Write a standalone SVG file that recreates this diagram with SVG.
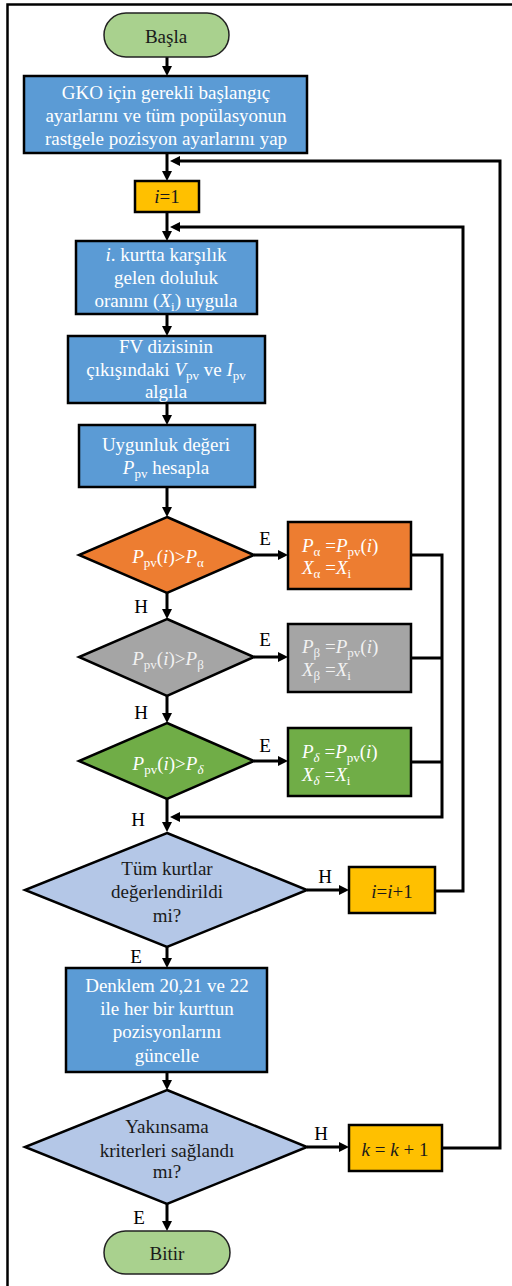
<svg xmlns="http://www.w3.org/2000/svg" width="512" height="1286" viewBox="0 0 512 1286">
<defs>
<marker id="ah" markerUnits="userSpaceOnUse" markerWidth="11" markerHeight="11" refX="3" refY="5" orient="auto">
<path d="M0,0 L10,5 L0,10 z" fill="#000"/>
</marker>
<style>
text{font-family:"Liberation Serif","Times New Roman",serif;font-size:19px;}
.w{fill:#fff;}
.g{fill:#f2f2f2;}
.d{fill:#1a1a1a;}
.c{text-anchor:middle;}
.it{font-style:italic;}
.node{stroke:#000;stroke-width:2.5;}
.term{stroke:#222;stroke-width:1.5;fill:#a9d18e;}
.blue{fill:#5b9bd5;}
.orange{fill:#ed7d31;}
.gray{fill:#a5a5a5;}
.green{fill:#70ad47;}
.yellow{fill:#ffc000;}
.lb{fill:#b4c7e7;}
.conn{fill:none;stroke:#000;stroke-width:3;}
.arr{marker-end:url(#ah);}
.lbl{fill:#000;text-anchor:middle;}
</style>
</defs>
<rect width="512" height="1286" fill="#fff"/>
<path d="M7.5,1286 V4.5 H512" fill="none" stroke="#000" stroke-width="2.5"/>

<g id="connectors">
<path class="conn arr" d="M167,57 V69"/>
<path class="conn arr" d="M167,153 V174"/>
<path class="conn arr" d="M442,1148 H500 V161 H177"/>
<path class="conn arr" d="M167,212 V234"/>
<path class="conn arr" d="M435,891 H463 V227 H177"/>
<path class="conn arr" d="M167,314 V329"/>
<path class="conn arr" d="M167,403 V418"/>
<path class="conn arr" d="M167,487 V510"/>
<path class="conn arr" d="M254,555 H281"/>
<path class="conn arr" d="M411,555 H442 V817 H177"/>
<path class="conn arr" d="M167,593 V612"/>
<path class="conn arr" d="M254,657 H281"/>
<path class="conn" d="M411,658 H442"/>
<path class="conn arr" d="M167,696 V716"/>
<path class="conn arr" d="M254,761 H281"/>
<path class="conn" d="M411,762 H442"/>
<path class="conn arr" d="M167,799 V825"/>
<path class="conn arr" d="M307,890 H342"/>
<path class="conn arr" d="M167,947 V961"/>
<path class="conn arr" d="M167,1072 V1083"/>
<path class="conn arr" d="M307,1147 H342"/>
<path class="conn arr" d="M167,1204 V1224"/>
<text class="lbl" x="265" y="545">E</text>
<text class="lbl" x="265" y="646">E</text>
<text class="lbl" x="265" y="752">E</text>
<text class="lbl" x="141" y="613">H</text>
<text class="lbl" x="141" y="719">H</text>
<text class="lbl" x="138" y="826">H</text>
<text class="lbl" x="325" y="883">H</text>
<text class="lbl" x="136" y="963">E</text>
<text class="lbl" x="321" y="1140">H</text>
<text class="lbl" x="139" y="1224">E</text>
</g>

<g id="start">
<rect class="term" x="104" y="13" width="125" height="44" rx="22"/>
<text class="d c" x="166" y="43">Başla</text>
</g>

<g id="init">
<rect class="node blue" x="24" y="76" width="283" height="77"/>
<text class="w c" x="166" y="99">GKO için gerekli başlangıç</text>
<text class="w c" x="166" y="122">ayarlarını ve tüm popülasyonun</text>
<text class="w c" x="166" y="145">rastgele pozisyon  ayarlarını yap</text>
</g>

<g id="i1">
<rect class="node yellow" x="135" y="181" width="64" height="31"/>
<text class="d c" x="167" y="203"><tspan class="it">i</tspan>=1</text>
</g>

<g id="apply">
<rect class="node blue" x="76" y="241" width="181" height="73"/>
<text class="w c" x="166" y="261"><tspan class="it">i</tspan>. kurtta  karşılık</text>
<text class="w c" x="166" y="284">gelen doluluk</text>
<text class="w c" x="166" y="307">oranını  (<tspan class="it">X</tspan><tspan font-size="13" dy="4">i</tspan><tspan dy="-4">) uygula</tspan></text>
</g>

<g id="sense">
<rect class="node blue" x="68" y="336" width="197" height="67"/>
<text class="w c" x="166" y="353">FV dizisinin</text>
<text class="w c" x="166" y="376">çıkışındaki  <tspan class="it">V</tspan><tspan font-size="13" dy="4">pv</tspan><tspan dy="-4"> ve </tspan><tspan class="it">I</tspan><tspan font-size="13" dy="4">pv</tspan></text>
<text class="w c" x="166" y="398">algıla</text>
</g>

<g id="fitness">
<rect class="node blue" x="79" y="425" width="176" height="62"/>
<text class="w c" x="166" y="451">Uygunluk  değeri</text>
<text class="w c" x="166" y="474"><tspan class="it">P</tspan><tspan font-size="13" dy="4">pv</tspan><tspan dy="-4"> hesapla</tspan></text>
</g>

<g id="dec-alpha">
<polygon class="node orange" points="167,517 254,555 167,593 79,555"/>
<text class="w c" x="168" y="563"><tspan class="it">P</tspan><tspan font-size="13" dy="4">pv</tspan><tspan dy="-4">(</tspan><tspan class="it">i</tspan>)&gt;<tspan class="it">P</tspan><tspan font-size="13" dy="4">α</tspan></text>
</g>

<g id="set-alpha">
<rect class="node orange" x="288" y="522" width="123" height="67"/>
<text class="w" x="302" y="552"><tspan class="it">P</tspan><tspan font-size="13" dy="4">α</tspan><tspan dy="-4"> =</tspan><tspan class="it">P</tspan><tspan font-size="13" dy="4">pv</tspan><tspan dy="-4">(</tspan><tspan class="it">i</tspan>)</text>
<text class="w" x="302" y="574"><tspan class="it">X</tspan><tspan font-size="13" dy="4">α</tspan><tspan dy="-4"> =</tspan><tspan class="it">X</tspan><tspan font-size="13" dy="4">i</tspan></text>
</g>

<g id="dec-beta">
<polygon class="node gray" points="167,619 254,657 167,696 79,657"/>
<text class="g c" x="168" y="665"><tspan class="it">P</tspan><tspan font-size="13" dy="4">pv</tspan><tspan dy="-4">(</tspan><tspan class="it">i</tspan>)&gt;<tspan class="it">P</tspan><tspan font-size="13" dy="4">β</tspan></text>
</g>

<g id="set-beta">
<rect class="node gray" x="288" y="624" width="123" height="68"/>
<text class="g" x="302" y="653"><tspan class="it">P</tspan><tspan font-size="13" dy="4">β</tspan><tspan dy="-4"> =</tspan><tspan class="it">P</tspan><tspan font-size="13" dy="4">pv</tspan><tspan dy="-4">(</tspan><tspan class="it">i</tspan>)</text>
<text class="g" x="302" y="676"><tspan class="it">X</tspan><tspan font-size="13" dy="4">β</tspan><tspan dy="-4"> =</tspan><tspan class="it">X</tspan><tspan font-size="13" dy="4">i</tspan></text>
</g>

<g id="dec-delta">
<polygon class="node green" points="167,723 254,761 167,799 79,761"/>
<text class="w c" x="168" y="770"><tspan class="it">P</tspan><tspan font-size="13" dy="4">pv</tspan><tspan dy="-4">(</tspan><tspan class="it">i</tspan>)&gt;<tspan class="it">P</tspan><tspan class="it" font-size="13" dy="4">δ</tspan></text>
</g>

<g id="set-delta">
<rect class="node green" x="288" y="728" width="123" height="68"/>
<text class="w" x="302" y="758"><tspan class="it">P</tspan><tspan class="it" font-size="13" dy="4">δ</tspan><tspan dy="-4"> =</tspan><tspan class="it">P</tspan><tspan font-size="13" dy="4">pv</tspan><tspan dy="-4">(</tspan><tspan class="it">i</tspan>)</text>
<text class="w" x="302" y="781"><tspan class="it">X</tspan><tspan class="it" font-size="13" dy="4">δ</tspan><tspan dy="-4"> =</tspan><tspan class="it">X</tspan><tspan font-size="13" dy="4">i</tspan></text>
</g>

<g id="dec-all">
<polygon class="node lb" points="167,833 307,890 167,947 25,890"/>
<text class="d c" x="167" y="875">Tüm kurtlar</text>
<text class="d c" x="167" y="898">değerlendirildi</text>
<text class="d c" x="167" y="922">mi?</text>
</g>

<g id="inc-i">
<rect class="node yellow" x="349" y="867" width="86" height="46"/>
<text class="d c" x="392" y="898"><tspan class="it">i</tspan>=<tspan class="it">i</tspan>+1</text>
</g>

<g id="update">
<rect class="node blue" x="66" y="968" width="201" height="104"/>
<text class="w c" x="167" y="992">Denklem 20,21  ve 22</text>
<text class="w c" x="167" y="1015">ile  her bir  kurttun</text>
<text class="w c" x="167" y="1038">pozisyonlarını</text>
<text class="w c" x="167" y="1062">güncelle</text>
</g>

<g id="dec-conv">
<polygon class="node lb" points="167,1090 307,1147 167,1204 25,1147"/>
<text class="d c" x="167" y="1133">Yakınsama</text>
<text class="d c" x="167" y="1157">kriterleri  sağlandı</text>
<text class="d c" x="167" y="1178">mı?</text>
</g>

<g id="inc-k">
<rect class="node yellow" x="349" y="1125" width="93" height="46"/>
<text class="d c" x="395" y="1156"><tspan class="it">k</tspan> = <tspan class="it">k</tspan> + 1</text>
</g>

<g id="end">
<rect class="term" x="104" y="1231" width="126" height="43" rx="21.5"/>
<text class="d c" x="167" y="1260">Bitir</text>
</g>
</svg>
